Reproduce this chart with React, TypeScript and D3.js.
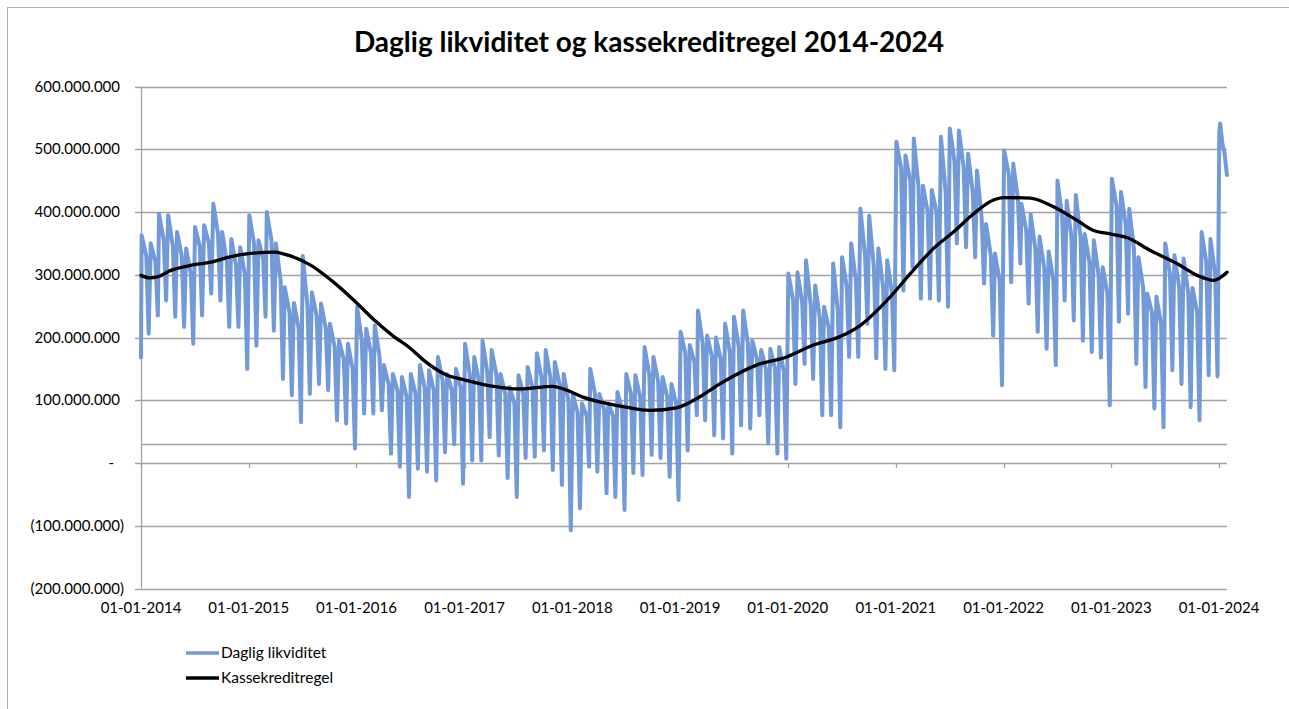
import React, { useEffect, useRef } from 'react'
import * as d3 from 'd3'

// monthly readings (millions), Jan 2014 .. Dec 2023
// early-month high
const peaks = [
  363, 350, 397, 395, 368, 342, 376, 379, 413, 368, 357, 344, // 2014
  395, 355, 400, 350, 280, 255, 330, 272, 254, 222, 195, 190, // 2015
  249, 214, 219, 156, 142, 137, 142, 156, 148, 169, 142, 150, // 2016
  190, 169, 195, 180, 142, 121, 140, 153, 175, 180, 161, 142, // 2017
  110, 95, 150, 110, 95, 113, 142, 140, 185, 169, 137, 126,   // 2018
  209, 188, 243, 203, 200, 222, 233, 243, 195, 180, 182, 185, // 2019
  302, 304, 323, 283, 249, 318, 328, 350, 405, 394, 342, 323, // 2020
  512, 490, 517, 442, 435, 520, 533, 530, 493, 466, 381, 334, // 2021
  498, 477, 413, 396, 361, 337, 450, 418, 427, 365, 355, 312, // 2022
  453, 432, 405, 328, 270, 265, 350, 331, 326, 279, 368, 357  // 2023
]
// late-month level before the drop
const levels = [
  330, 320, 355, 345, 330, 300, 345, 350, 365, 320, 315, 300,
  350, 325, 355, 290, 240, 215, 250, 235, 215, 185, 165, 150,
  195, 175, 170, 125, 115, 105, 110, 120, 115, 130, 115, 120,
  140, 130, 145, 140, 110, 95, 110, 120, 135, 135, 125, 100,
  80, 75, 110, 85, 75, 85, 110, 105, 140, 130, 105, 95,
  175, 160, 190, 170, 165, 175, 185, 190, 165, 150, 150, 145,
  260, 255, 250, 230, 215, 240, 280, 290, 330, 310, 280, 270,
  470, 450, 440, 400, 400, 430, 480, 470, 430, 390, 330, 290,
  460, 420, 370, 340, 310, 290, 390, 360, 360, 320, 300, 270,
  410, 380, 340, 280, 240, 220, 300, 280, 270, 240, 320, 300
]
// month-end low
const troughs = [
  206, 235, 259, 233, 217, 190, 235, 270, 259, 217, 217, 150,
  187, 233, 211, 134, 108, 65, 110, 126, 116, 68, 63, 23,
  79, 79, 84, 15, -6, -54, -9, -14, -28, 17, 30, -33,
  4, 4, 41, 12, -24, -54, 8, 10, 20, -11, -35, -107,
  -72, -6, -14, -48, -54, -75, -16, -19, 13, 8, -22, -59,
  20, 76, 68, 44, 39, 15, 60, 55, 76, 31, 15, 7,
  126, 158, 134, 76, 76, 57, 169, 169, 222, 167, 150, 148,
  275, 312, 262, 262, 259, 249, 350, 344, 328, 286, 203, 124,
  288, 318, 254, 209, 182, 156, 259, 227, 195, 177, 168, 92,
  225, 238, 158, 121, 87, 57, 148, 126, 89, 68, 140, 138
]
const firstValue = 168
const tailDates = ['2024-01-02', '2024-01-05', '2024-01-12', '2024-01-20', '2024-01-28']
const tailValues = [527, 541, 510, 493, 459]

const ruleDates = [
  '2014-01-01', '2014-01-30', '2014-02-28', '2014-04-12', '2014-07-01', '2014-08-25', '2014-11-02',
  '2015-01-08', '2015-03-29', '2015-05-01', '2015-07-31', '2015-10-08', '2015-12-24',
  '2016-03-03', '2016-05-08', '2016-07-01', '2016-08-15', '2016-11-03', '2016-12-28',
  '2017-04-09', '2017-07-09', '2017-10-27', '2017-12-02',
  '2018-02-06', '2018-04-27', '2018-07-02', '2018-09-21', '2018-12-20',
  '2019-03-11', '2019-05-16', '2019-09-17', '2019-12-28',
  '2020-03-28', '2020-06-24', '2020-09-02', '2020-12-02',
  '2021-03-01', '2021-05-09', '2021-07-20', '2021-09-09', '2021-11-28',
  '2022-01-01', '2022-04-02', '2022-06-07', '2022-09-06', '2022-10-31', '2022-12-28',
  '2023-02-25', '2023-05-12', '2023-08-11', '2023-10-19', '2023-12-14', '2024-01-28'
]
const ruleValues = [
  299, 295, 297, 307, 316, 320, 329,
  334, 336, 333, 315, 291, 259,
  227, 201, 183, 164, 140, 133,
  122, 118, 122, 118,
  105, 95, 89, 84, 88,
  106, 126, 156, 169,
  188, 201, 219, 259,
  307, 342, 370, 392, 419,
  423, 422, 411, 387, 371, 365,
  359, 339, 318, 299, 291, 304
]

const yTicks = [-200, -100, 0, 100, 200, 300, 400, 500, 600]
const limitValue = 30
const xTickYears = d3.range(2014, 2025)

const FONT = 'Lato, "Open Sans", sans-serif'
const BLUE = '#7299d8'
const GRID = '#a3a3a3'

export default function App() {
  const ref = useRef<SVGSVGElement>(null)

  useEffect(() => {
    const svg = d3.select(ref.current)
    svg.selectAll('*').remove()

    const parse = d3.timeParse('%Y-%m-%d')
    const endDate = parse(tailDates[tailDates.length - 1])!

    const x = d3.scaleTime()
      .domain([new Date(2014, 0, 1), new Date(2024, 0, 1)])
      .range([141, 1219])
    const y = d3.scaleLinear()
      .domain([-200, 600])
      .range([588.5, 86.5])
    const xEnd = x(endDate)

    // daily series from monthly readings
    const daily: [Date, number][] = [[new Date(2014, 0, 1), firstValue]]
    peaks.forEach((p, i) => {
      const yr = 2014 + Math.floor(i / 12), m = i % 12
      daily.push([new Date(yr, m, 3), p])
      daily.push([new Date(yr, m, 19), levels[i]])
      daily.push([new Date(yr, m, 27), troughs[i]])
    })
    tailDates.forEach((d, i) => daily.push([parse(d)!, tailValues[i]]))

    const rule: [Date, number][] = ruleDates.map((d, i) => [parse(d)!, ruleValues[i]])

    const loc = d3.formatLocale({ decimal: ',', thousands: '.', grouping: [3], currency: ['', ''] })
    const fmt = loc.format(',')
    const label = (v: number) => v === 0 ? '-' : v < 0 ? `(${fmt(-v * 1e6)})` : fmt(v * 1e6)

    // outer frame
    svg.append('rect')
      .attr('x', 7.5).attr('y', 7.5)
      .attr('width', 1300).attr('height', 720)
      .attr('fill', 'white').attr('stroke', '#b0b0b0')

    svg.append('text')
      .attr('x', 649).attr('y', 52)
      .attr('text-anchor', 'middle')
      .style('font', `bold 28px ${FONT}`)
      .text('Daglig likviditet og kassekreditregel 2014-2024')

    // gridlines
    svg.append('g').selectAll('line')
      .data(yTicks)
      .enter().append('line')
      .attr('x1', 135).attr('x2', xEnd)
      .attr('y1', d => Math.round(y(d)) + 0.5).attr('y2', d => Math.round(y(d)) + 0.5)
      .attr('stroke', GRID).attr('stroke-width', 1.3)

    svg.append('line')
      .attr('x1', 141).attr('x2', xEnd)
      .attr('y1', Math.round(y(limitValue)) + 0.5).attr('y2', Math.round(y(limitValue)) + 0.5)
      .attr('stroke', GRID).attr('stroke-width', 1.3)

    // y axis
    svg.append('line')
      .attr('x1', 141.5).attr('x2', 141.5)
      .attr('y1', y(600)).attr('y2', y(-200))
      .attr('stroke', GRID).attr('stroke-width', 1.3)

    svg.append('g').selectAll('text')
      .data(yTicks)
      .enter().append('text')
      .attr('x', d => d < 0 ? 124 : d === 0 ? 114 : 120)
      .attr('y', d => y(d) + 5)
      .attr('text-anchor', 'end')
      .style('font', `15px ${FONT}`)
      .text(label)

    // year ticks on the zero line, labels below the plot
    svg.append('g').selectAll('line')
      .data(xTickYears)
      .enter().append('line')
      .attr('x1', d => Math.round(x(new Date(d, 0, 1))) + 0.5)
      .attr('x2', d => Math.round(x(new Date(d, 0, 1))) + 0.5)
      .attr('y1', y(0)).attr('y2', y(0) + 5)
      .attr('stroke', GRID).attr('stroke-width', 1.3)

    const tf = d3.timeFormat('%d-%m-%Y')
    svg.append('g').selectAll('text')
      .data(xTickYears)
      .enter().append('text')
      .attr('x', d => x(new Date(d, 0, 1)))
      .attr('y', 613)
      .attr('text-anchor', 'middle')
      .style('font', `15px ${FONT}`)
      .text(d => tf(new Date(d, 0, 1)))

    const line = d3.line<[Date, number]>()
      .x(d => x(d[0]))
      .y(d => y(d[1]))

    svg.append('path')
      .datum(daily)
      .attr('d', line)
      .attr('fill', 'none')
      .attr('stroke', BLUE)
      .attr('stroke-width', 4)
      .attr('stroke-linejoin', 'round')
      .attr('stroke-linecap', 'round')

    svg.append('path')
      .datum(rule)
      .attr('d', line.curve(d3.curveMonotoneX))
      .attr('fill', 'none')
      .attr('stroke', '#000')
      .attr('stroke-width', 3.3)
      .attr('stroke-linecap', 'round')

    // legend
    const legend = [
      { name: 'Daglig likviditet', color: BLUE, y: 653 },
      { name: 'Kassekreditregel', color: '#000', y: 678 }
    ]
    const lg = svg.append('g').selectAll('g')
      .data(legend)
      .enter().append('g')
    lg.append('line')
      .attr('x1', 186).attr('x2', 219)
      .attr('y1', d => d.y).attr('y2', d => d.y)
      .attr('stroke', d => d.color).attr('stroke-width', 3.5)
    lg.append('text')
      .attr('x', 221).attr('y', d => d.y + 5)
      .style('font', `15.5px ${FONT}`)
      .text(d => d.name)
  }, [])

  return (
    <svg ref={ref} width={1289} height={709}
      style={{ position: 'absolute', left: 0, top: 0, display: 'block' }} />
  )
}
